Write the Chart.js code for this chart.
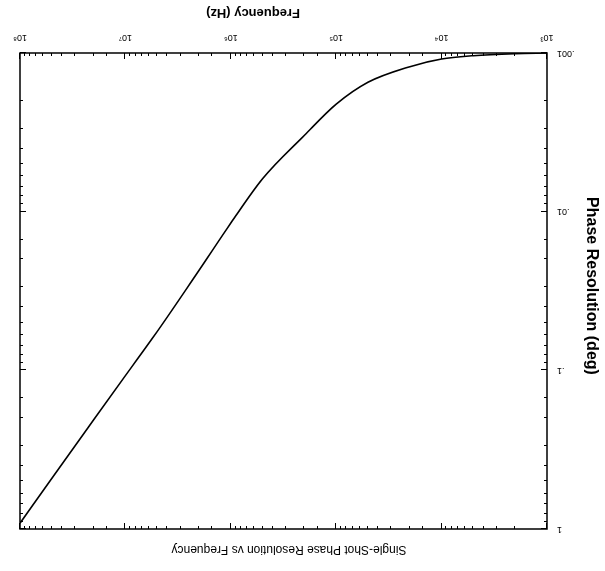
<!DOCTYPE html>
<html>
<head>
<meta charset="utf-8">
<script src="https://cdn.jsdelivr.net/npm/chart.js@4"></script>
<style>
  html, body { margin: 0; padding: 0; background: #fff; }
  #wrap { width: 605px; height: 571px; transform: rotate(180deg); transform-origin: 50% 50%; }
  canvas { display: block; }
</style>
</head>
<body>
<div id="wrap"><canvas id="c" width="605" height="571"></canvas></div>
<script>
// ---- data (scan is rotated 180 degrees) ----
const freqHz       = [1e3, 2e3, 5e3, 1e4, 2e4, 5e4, 1e5, 2e5, 5e5, 1e6, 2e6, 5e6, 1e7, 2e7, 5e7, 1e8];
const phaseResDeg  = [0.001, 0.00101, 0.00104, 0.00109, 0.00122, 0.00153, 0.0021, 0.0033, 0.0062, 0.0118, 0.0234, 0.057, 0.108, 0.205, 0.48, 0.92];
const xTickLabels  = ['10³', '10⁴', '10⁵', '10⁶', '10⁷', '10⁸'];
const yTickLabels  = ['.001', '.01', '.1', '1'];
const titleText    = 'Single-Shot Phase Resolution vs Frequency';
const xTitleText   = 'Frequency (Hz)';
const yTitleText   = 'Phase Resolution (deg)';

const FONT = '"Liberation Sans", Arial, Helvetica, sans-serif';
const isDecade = v => Math.abs(Math.log10(v) - Math.round(Math.log10(v))) < 1e-6;

const framePlugin = {
  id: 'framePlugin',
  afterDraw(chart) {
    const { ctx, chartArea: a, scales: { x, y } } = chart;
    ctx.save();
    ctx.strokeStyle = '#000';
    ctx.lineWidth = 1;
    ctx.beginPath();
    x.ticks.forEach(t => {
      const px = Math.round(x.getPixelForValue(t.value)) + 0.5;
      const L = isDecade(t.value) ? 6 : 3;
      ctx.moveTo(px, a.bottom); ctx.lineTo(px, a.bottom - L);
      ctx.moveTo(px, a.top); ctx.lineTo(px, a.top + L);
    });
    y.ticks.forEach(t => {
      const py = Math.round(y.getPixelForValue(t.value)) + 0.5;
      const L = isDecade(t.value) ? 6 : 3;
      ctx.moveTo(a.left, py); ctx.lineTo(a.left + L, py);
      ctx.moveTo(a.right, py); ctx.lineTo(a.right - L, py);
    });
    ctx.stroke();
    ctx.lineWidth = 1.5;
    ctx.strokeRect(a.left, a.top, a.right - a.left, a.bottom - a.top);

    ctx.fillStyle = '#000';
    ctx.textAlign = 'center';
    ctx.textBaseline = 'middle';
    ctx.font = '12px ' + FONT;
    ctx.fillText(titleText, 316, 22);
    ctx.font = 'bold 13px ' + FONT;
    ctx.fillText(xTitleText, 352, 558);
    ctx.translate(14, 285);
    ctx.rotate(-Math.PI / 2);
    ctx.font = 'bold 16px ' + FONT;
    ctx.fillText(yTitleText, 0, 0);
    ctx.restore();
  }
};

new Chart(document.getElementById('c'), {
  type: 'line',
  data: {
    datasets: [{
      data: freqHz.map((f, i) => ({ x: f, y: phaseResDeg[i] })),
      borderColor: '#000',
      borderWidth: 1.6,
      pointRadius: 0,
      cubicInterpolationMode: 'monotone',
      fill: false
    }]
  },
  options: {
    responsive: false,
    animation: false,
    devicePixelRatio: 1,
    layout: { padding: { left: 8, right: 20, top: 42, bottom: 0 } },
    plugins: { legend: { display: false }, title: { display: false }, tooltip: { enabled: false } },
    scales: {
      x: {
        type: 'logarithmic',
        min: 1e3, max: 1e8,
        grid: { display: true, drawOnChartArea: false, drawTicks: false },
        border: { display: false },
        afterFit: s => { s.height = 53; },
        ticks: {
          autoSkip: false, maxRotation: 0, padding: 10,
          color: '#000', font: { size: 9, family: FONT },
          callback: v => isDecade(v) ? xTickLabels[Math.round(Math.log10(v)) - 3] : ''
        }
      },
      y: {
        type: 'logarithmic',
        min: 0.001, max: 1,
        grid: { display: true, drawOnChartArea: false, drawTicks: false },
        border: { display: false },
        afterFit: s => { s.width = 50; },
        ticks: {
          autoSkip: false, padding: 10,
          color: '#000', font: { size: 9, family: FONT },
          callback: v => isDecade(v) ? yTickLabels[Math.round(Math.log10(v)) + 3] : ''
        }
      }
    }
  },
  plugins: [framePlugin]
});
</script>
</body>
</html>
